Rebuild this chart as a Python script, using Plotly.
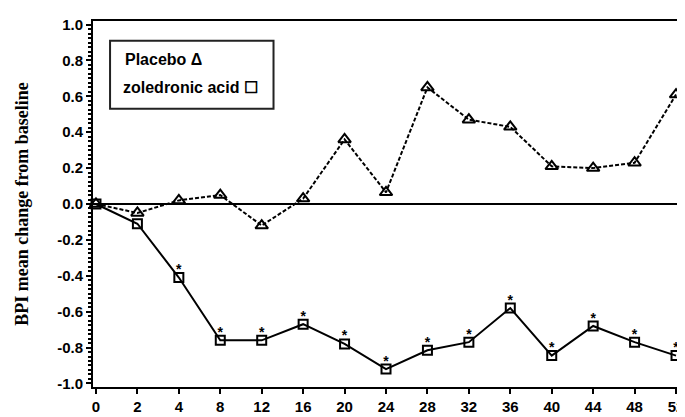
import plotly.graph_objects as go

weeks = ["0", "2", "4", "8", "12", "16", "20", "24", "28", "32", "36", "40", "44", "48", "52"]
placebo = [0.0, -0.05, 0.02, 0.05, -0.12, 0.03, 0.36, 0.065, 0.65, 0.47, 0.43, 0.21, 0.20, 0.23, 0.61]
zoledronic = [0.0, -0.11, -0.41, -0.76, -0.76, -0.67, -0.78, -0.92, -0.815, -0.77, -0.58, -0.845, -0.68, -0.77, -0.845]
significant = [False, False, True, True, True, True, True, True, True, True, True, True, True, True, True]
y_ticks = [1.0, 0.8, 0.6, 0.4, 0.2, 0.0, -0.2, -0.4, -0.6, -0.8, -1.0]
legend_lines = ["Placebo Δ", "zoledronic acid ☐"]

xi = list(range(len(weeks)))

fig = go.Figure()
fig.add_trace(go.Scatter(
    x=xi, y=placebo, mode="lines+markers",
    line=dict(color="black", width=2, dash="4px,2px"),
    marker=dict(symbol="triangle-up-open", size=11, color="black", line=dict(width=2)),
    showlegend=False, cliponaxis=False))
fig.add_trace(go.Scatter(
    x=xi, y=zoledronic, mode="lines+markers",
    line=dict(color="black", width=2),
    marker=dict(symbol="square-open", size=9, color="black", line=dict(width=2)),
    showlegend=False, cliponaxis=False))
fig.add_trace(go.Scatter(
    x=[i for i, s in zip(xi, significant) if s],
    y=[v for v, s in zip(zoledronic, significant) if s],
    mode="text", text=["<b>*</b>"] * sum(significant), textposition="top center",
    textfont=dict(family="Liberation Sans", size=14, color="black"),
    showlegend=False, cliponaxis=False))

# legend box (custom, text followed by symbol as in the original)
fig.add_shape(type="rect", xref="paper", yref="paper",
              x0=0.029, x1=0.307, y0=0.760, y1=0.946,
              line=dict(color="#222", width=2), fillcolor="rgba(0,0,0,0)")
fig.add_annotation(xref="paper", yref="paper", x=0.051, y=0.894, xanchor="left", yanchor="middle",
                   text=f"<b>{legend_lines[0]}</b>", showarrow=False,
                   font=dict(family="Liberation Sans", size=16, color="black"))
fig.add_annotation(xref="paper", yref="paper", x=0.047, y=0.817, xanchor="left", yanchor="middle",
                   text=f"<b>{legend_lines[1]}</b>", showarrow=False,
                   font=dict(family="Liberation Sans", size=16, color="black"))

fig.update_layout(
    width=677, height=409,
    margin=dict(l=85, r=2, t=13, b=29),
    paper_bgcolor="white", plot_bgcolor="white",
    font=dict(family="Liberation Sans", color="black"),
)
fig.update_xaxes(
    tickmode="array", tickvals=xi, ticktext=[f"<b>{w}</b>" for w in weeks],
    range=[-0.072, 14.12], showline=True, linecolor="black", linewidth=2, mirror=True,
    ticks="outside", ticklen=5, tickwidth=1.5, tickcolor="black", showgrid=False, zeroline=False,
    tickfont=dict(family="Liberation Sans", size=15, color="black"))
fig.update_yaxes(
    range=[-1.02, 1.02], tickmode="array", tickvals=y_ticks,
    ticktext=[f"<b>{v:.1f}</b>" for v in y_ticks],
    showline=True, linecolor="black", linewidth=2, mirror=True,
    ticks="outside", ticklen=5, tickwidth=1.5, tickcolor="black",
    minor=dict(dtick=0.025, ticks="outside", ticklen=3, tickcolor="black", showgrid=False),
    showgrid=False, zeroline=True, zerolinecolor="black", zerolinewidth=1.5,
    tickfont=dict(family="Liberation Sans", size=15, color="black"),
    title=dict(text="<b>BPI mean change from baseline</b>", standoff=24,
               font=dict(family="Liberation Serif", size=18, color="black")))

fig.write_html("out.html")
